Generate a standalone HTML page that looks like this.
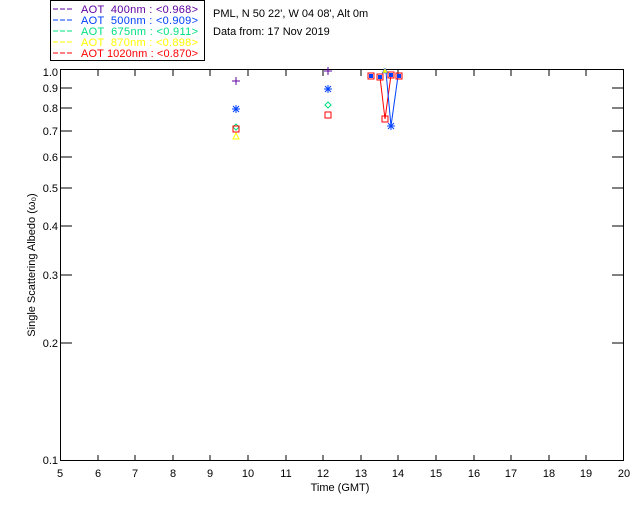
<!DOCTYPE html>
<html><head><style>
body{margin:0;background:#fff;}
svg text{font-family:"Liberation Sans",sans-serif;font-size:11px;white-space:pre;}
</style></head><body>
<svg width="640" height="512" xmlns="http://www.w3.org/2000/svg">
<rect width="640" height="512" fill="#fff"/>
<!-- legend -->
<rect x="50.5" y="0.5" width="154" height="60" fill="none" stroke="#000"/>
<g font-size="11">
<line x1="53" y1="9" x2="74" y2="9" stroke="#6000a0" stroke-dasharray="5,2"/>
<text x="81" y="13" fill="#6000a0" textLength="117">AOT  400nm : &lt;0.968&gt;</text>
<line x1="53" y1="20" x2="74" y2="20" stroke="#0040ff" stroke-dasharray="5,2"/>
<text x="81" y="24" fill="#0040ff" textLength="117">AOT  500nm : &lt;0.909&gt;</text>
<line x1="53" y1="31" x2="74" y2="31" stroke="#00e080" stroke-dasharray="5,2"/>
<text x="81" y="35" fill="#00e080" textLength="117">AOT  675nm : &lt;0.911&gt;</text>
<line x1="53" y1="42" x2="74" y2="42" stroke="#ffff00" stroke-dasharray="5,2"/>
<text x="81" y="46" fill="#ffff00" textLength="117">AOT  870nm : &lt;0.898&gt;</text>
<line x1="53" y1="53" x2="74" y2="53" stroke="#ff0000" stroke-dasharray="5,2"/>
<text x="81" y="57" fill="#ff0000" textLength="117">AOT 1020nm : &lt;0.870&gt;</text>
</g>
<text x="213" y="17">PML, N 50 22', W 04 08', Alt 0m</text>
<text x="213" y="35">Data from: 17 Nov 2019</text>
<!-- axes -->
<rect x="60.5" y="69.5" width="563" height="391" fill="none" stroke="#000"/>
<g stroke="#000">
<path d="M98,461v-6M98,70v6M135,461v-6M135,70v6M173,461v-6M173,70v6M210,461v-6M210,70v6M248,461v-6M248,70v6M286,461v-6M286,70v6M323,461v-6M323,70v6M361,461v-6M361,70v6M398,461v-6M398,70v6M436,461v-6M436,70v6M474,461v-6M474,70v6M511,461v-6M511,70v6M549,461v-6M549,70v6M586,461v-6M586,70v6"/>
<path d="M60,88h12M624,88h-12M60,108h12M624,108h-12M60,131h12M624,131h-12M60,157h12M624,157h-12M60,188h12M624,188h-12M60,226h12M624,226h-12M60,275h12M624,275h-12M60,343h12M624,343h-12"/>
</g>
<g text-anchor="end">
<text x="58" y="76">1.0</text><text x="58" y="92">0.9</text><text x="58" y="112">0.8</text>
<text x="58" y="135">0.7</text><text x="58" y="161">0.6</text><text x="58" y="192">0.5</text>
<text x="58" y="230">0.4</text><text x="58" y="279">0.3</text><text x="58" y="347">0.2</text>
<text x="58" y="464">0.1</text>
</g>
<g text-anchor="middle">
<text x="60" y="477">5</text><text x="98" y="477">6</text><text x="135" y="477">7</text><text x="173" y="477">8</text>
<text x="210" y="477">9</text><text x="248" y="477">10</text><text x="286" y="477">11</text><text x="323" y="477">12</text>
<text x="361" y="477">13</text><text x="398" y="477">14</text><text x="436" y="477">15</text><text x="474" y="477">16</text>
<text x="511" y="477">17</text><text x="549" y="477">18</text><text x="586" y="477">19</text><text x="624" y="477">20</text>
<text x="340" y="491">Time (GMT)</text>
</g>
<text transform="translate(35,265) rotate(-90)" text-anchor="middle">Single Scattering Albedo (ω₀)</text>
<!-- data lines -->
<polyline points="380,77 385,119 391,75" fill="none" stroke="#ff0000"/>
<polyline points="386,72 391,126 398,76" fill="none" stroke="#0040ff"/>
<!-- markers -->
<g stroke="#6000a0"><path d="M232,81h8M236,77v8M324,71h8M328,67v8"/></g>
<g stroke="#0040ff"><path d="M232,109h8M236,105v8M233,106l6,6M239,106l-6,6M324,89h8M328,85v8M325,86l6,6M331,86l-6,6M387,126h8M391,122v8M388,123l6,6M394,123l-6,6"/></g>
<g fill="none" stroke="#00e080"><path d="M236,124l3,3-3,3-3-3zM328,102l3,3-3,3-3-3z"/></g>
<g fill="none" stroke="#ffff00"><path d="M233,139l3-6 3,6z"/></g>
<g fill="#0040ff"><rect x="369" y="74" width="4" height="4"/><rect x="378" y="75" width="4" height="4"/><rect x="389" y="73" width="4" height="4"/><rect x="397" y="74" width="4" height="4"/></g>
<g fill="none" stroke="#ff0000">
<rect x="233" y="126" width="6" height="6"/><rect x="325" y="112" width="6" height="6"/>
<rect x="368" y="73" width="6" height="6"/><rect x="377" y="74" width="6" height="6"/>
<rect x="382" y="116" width="6" height="6"/><rect x="388" y="72" width="6" height="6"/><rect x="396" y="73" width="6" height="6"/>
</g>
<path d="M382,73l3-5 3,5z" fill="#ffff00" stroke="#0040ff" stroke-width="0.5"/>
</svg>
</body></html>
